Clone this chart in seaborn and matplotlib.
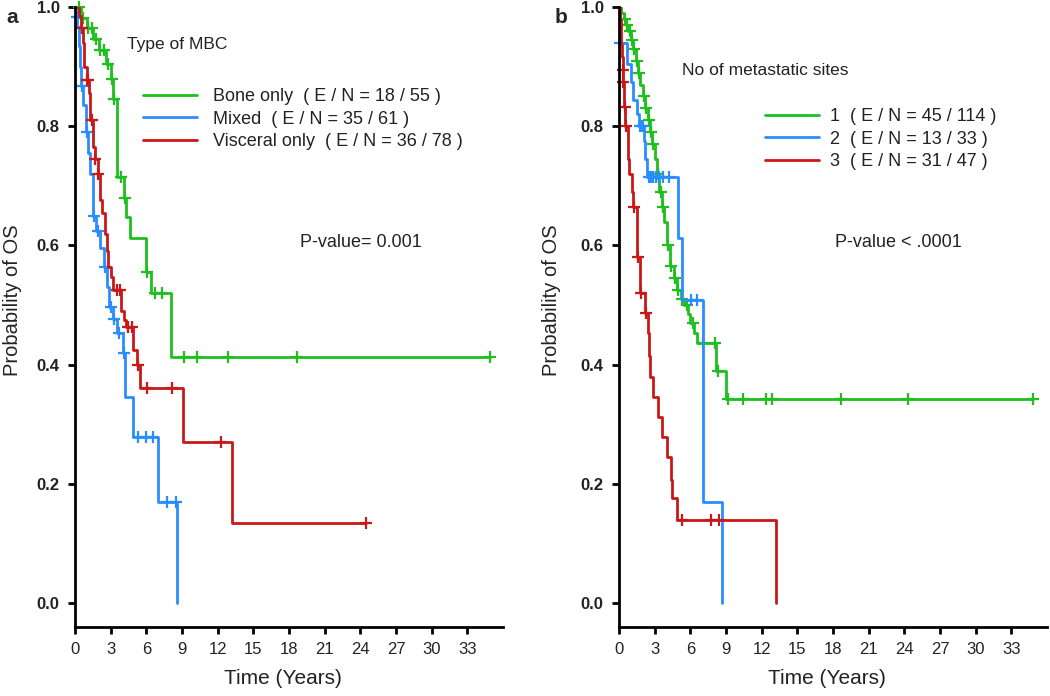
import numpy as np
import pandas as pd
import matplotlib
matplotlib.use('Agg')
import matplotlib.pyplot as plt
import seaborn as sns

# ---- panel a : type of MBC (step vertices + censor times, years) ----
bone_t = [0, 0.5, 1.0, 1.5, 2.0, 2.6, 3.0, 3.2, 3.5, 4.1, 4.3, 4.6, 6.0, 6.4, 8.1]
bone_s = [1.0, 0.982, 0.964, 0.946, 0.928, 0.905, 0.88, 0.845, 0.715, 0.68, 0.648, 0.612, 0.555, 0.52, 0.413]
bone_cens = [0.3, 0.7, 1.1, 1.4, 1.8, 2.1, 2.4, 2.8, 3.1, 3.3, 3.9, 4.2, 6.1, 6.7, 7.3,
             9.2, 10.3, 12.9, 18.7, 34.9]

mixed_t = [0, 0.1, 0.2, 0.3, 0.4, 0.5, 0.7, 0.9, 1.1, 1.3, 1.5, 1.8, 2.1, 2.4, 2.7, 2.9,
           3.2, 3.5, 4.0, 4.2, 4.9, 7.0, 8.6]
mixed_s = [1.0, 0.984, 0.967, 0.934, 0.90, 0.868, 0.835, 0.79, 0.755, 0.72, 0.65, 0.625,
           0.595, 0.563, 0.53, 0.496, 0.476, 0.453, 0.42, 0.346, 0.279, 0.17, 0.0]
mixed_cens = [0.15, 0.6, 1.0, 1.6, 1.9, 2.5, 3.0, 3.3, 3.7, 4.1, 5.3, 6.0, 6.6, 7.7, 8.5]

visc_t = [0, 0.3, 0.5, 0.7, 0.8, 1.0, 1.2, 1.3, 1.5, 1.7, 1.9, 2.1, 2.3, 2.5, 2.7, 2.8,
          3.0, 3.2, 3.9, 4.1, 4.3, 4.9, 5.2, 5.5, 9.1, 13.2]
visc_s = [1.0, 0.985, 0.965, 0.94, 0.90, 0.877, 0.856, 0.81, 0.765, 0.745, 0.72, 0.676,
          0.654, 0.62, 0.59, 0.564, 0.547, 0.525, 0.49, 0.475, 0.463, 0.424, 0.40, 0.36,
          0.27, 0.134]
visc_cens = [0.6, 1.0, 1.1, 1.4, 1.7, 1.9, 3.5, 3.8, 4.5, 4.8, 5.3, 6.1, 8.2, 12.3, 24.5]

type_labels = ["Bone only  ( E / N = 18 / 55 )",
               "Mixed  ( E / N = 35 / 61 )",
               "Visceral only  ( E / N = 36 / 78 )"]

# ---- panel b : number of metastatic sites ----
one_t = [0, 0.2, 0.4, 0.6, 0.8, 1.0, 1.2, 1.4, 1.6, 1.8, 2.0, 2.2, 2.4, 2.6, 2.8, 3.0,
         3.2, 3.4, 3.6, 3.8, 4.0, 4.3, 4.6, 4.9, 5.2, 5.5, 5.8, 6.0, 6.3, 6.6, 8.2, 9.0]
one_s = [1.0, 0.99, 0.98, 0.97, 0.96, 0.945, 0.93, 0.91, 0.89, 0.87, 0.85, 0.83, 0.81,
         0.79, 0.77, 0.745, 0.72, 0.69, 0.665, 0.64, 0.60, 0.565, 0.545, 0.525, 0.51, 0.50,
         0.485, 0.47, 0.453, 0.436, 0.39, 0.342]
one_cens = [0.5, 0.7, 0.9, 1.1, 1.3, 1.5, 1.7, 2.1, 2.3, 2.5, 2.7, 2.9, 3.3, 3.5, 3.7, 4.1,
            4.4, 4.7, 5.0, 5.3, 5.7, 6.2, 7.1, 8.1, 8.3, 9.2, 10.4, 12.4, 12.9, 18.7, 24.3, 34.8]

two_t = [0, 0.05, 0.1, 0.7, 1.0, 1.2, 1.5, 1.7, 2.1, 2.2, 2.35, 5.0, 5.3, 7.1, 8.65]
two_s = [1.0, 0.97, 0.94, 0.905, 0.875, 0.844, 0.82, 0.80, 0.775, 0.745, 0.715, 0.612,
         0.508, 0.17, 0.0]
two_cens = [0.12, 1.8, 1.9, 2.0, 2.5, 2.7, 2.9, 3.1, 3.4, 3.7, 4.2, 6.1, 6.6]

three_t = [0, 0.1, 0.15, 0.2, 0.25, 0.3, 0.35, 0.4, 0.45, 0.5, 0.75, 0.8, 0.85, 1.1, 1.15,
           1.5, 1.55, 1.75, 1.8, 2.2, 2.4, 2.5, 2.6, 2.9, 3.3, 3.6, 4.0, 4.4, 4.5, 4.9, 13.2]
three_s = [1.0, 0.979, 0.958, 0.937, 0.916, 0.895, 0.874, 0.853, 0.832, 0.80, 0.78, 0.745,
           0.72, 0.69, 0.664, 0.62, 0.58, 0.55, 0.52, 0.487, 0.453, 0.415, 0.38, 0.346,
           0.312, 0.279, 0.245, 0.206, 0.176, 0.139, 0.0]
three_cens = [0.32, 0.37, 0.47, 0.6, 1.3, 1.6, 1.85, 2.3, 5.3, 7.7, 8.4]

sites_labels = ["1  ( E / N = 45 / 114 )",
                "2  ( E / N = 13 / 33 )",
                "3  ( E / N = 31 / 47 )"]

GREEN = '#1fbf1f'
BLUE = '#2a8dff'
RED = '#c81818'
INK = '#222222'

sns.set_style('ticks')
plt.rcParams['font.family'] = ['Liberation Sans', 'DejaVu Sans']


def surv_at(times, surv, c):
    idx = np.searchsorted(times, c, side='right') - 1
    return np.asarray(surv)[idx]


def km(ax, times, surv, cens, color, label):
    t_end = max(times[-1], max(cens))
    df = pd.DataFrame({'t': list(times) + [t_end], 's': list(surv) + [surv[-1]]})
    sns.lineplot(data=df, x='t', y='s', drawstyle='steps-post', color=color, lw=2.0,
                 ax=ax, label=label, estimator=None, sort=False)
    ax.plot(cens, surv_at(times, surv, cens), ls='none', marker='+', ms=9, mew=1.6,
            color=color, clip_on=False)


def style_axes(ax):
    ax.set_xlim(0, 36)
    ax.set_ylim(-0.0403, 1.0)
    ax.set_xticks(range(0, 34, 3))
    ax.set_yticks([0.0, 0.2, 0.4, 0.6, 0.8, 1.0])
    ax.set_yticklabels(['%.1f' % v for v in [0.0, 0.2, 0.4, 0.6, 0.8, 1.0]],
                       fontweight='bold')
    for s in ['top', 'right']:
        ax.spines[s].set_visible(False)
    for s in ['left', 'bottom']:
        ax.spines[s].set_linewidth(2)
        ax.spines[s].set_color('black')
    ax.tick_params(direction='out', length=5, width=2, labelsize=12, labelcolor=INK,
                   color='black', pad=6)
    ax.set_xlabel('Time (Years)', fontsize=15, color=INK)
    ax.set_ylabel('Probability of OS', fontsize=14.5, color=INK)
    ax.xaxis.set_label_coords(0.485, -0.068)


fig = plt.figure(figsize=(10.5, 6.96), dpi=100)
ax1 = fig.add_axes([0.0714, 0.0991, 0.4076, 0.8908])
ax2 = fig.add_axes([0.5895, 0.0991, 0.4076, 0.8908])

km(ax1, bone_t, bone_s, bone_cens, GREEN, type_labels[0])
km(ax1, mixed_t, mixed_s, mixed_cens, BLUE, type_labels[1])
km(ax1, visc_t, visc_s, visc_cens, RED, type_labels[2])

km(ax2, one_t, one_s, one_cens, GREEN, sites_labels[0])
km(ax2, two_t, two_s, two_cens, BLUE, sites_labels[1])
km(ax2, three_t, three_s, three_cens, RED, sites_labels[2])

for ax in (ax1, ax2):
    style_axes(ax)
ax1.yaxis.set_label_coords(-0.124, 0.527)
ax2.yaxis.set_label_coords(-0.135, 0.527)

ax1.legend(loc='upper left', bbox_to_anchor=(0.159, 0.869), frameon=False, fontsize=13,
           handlelength=3.0, handletextpad=0.9, labelspacing=0.3, borderpad=0,
           borderaxespad=0, labelcolor=INK)
ax2.legend(loc='upper left', bbox_to_anchor=(0.341, 0.837), frameon=False, fontsize=13,
           handlelength=3.0, handletextpad=0.6, labelspacing=0.3, borderpad=0,
           borderaxespad=0, labelcolor=INK)

ax1.text(0.121, 0.939, 'Type of MBC', transform=ax1.transAxes, fontsize=12.5,
         color=INK, va='center')
ax2.text(0.147, 0.898, 'No of metastatic sites', transform=ax2.transAxes, fontsize=12.5,
         color=INK, va='center')
ax1.text(0.526, 0.621, 'P-value= 0.001', transform=ax1.transAxes, fontsize=13,
         color=INK, va='center')
ax2.text(0.505, 0.621, 'P-value < .0001', transform=ax2.transAxes, fontsize=13,
         color=INK, va='center')

fig.text(0.006, 0.988, 'a', fontsize=15, fontweight='bold', va='top')
fig.text(0.528, 0.988, 'b', fontsize=15, fontweight='bold', va='top')

fig.savefig('out.png', dpi=100)
